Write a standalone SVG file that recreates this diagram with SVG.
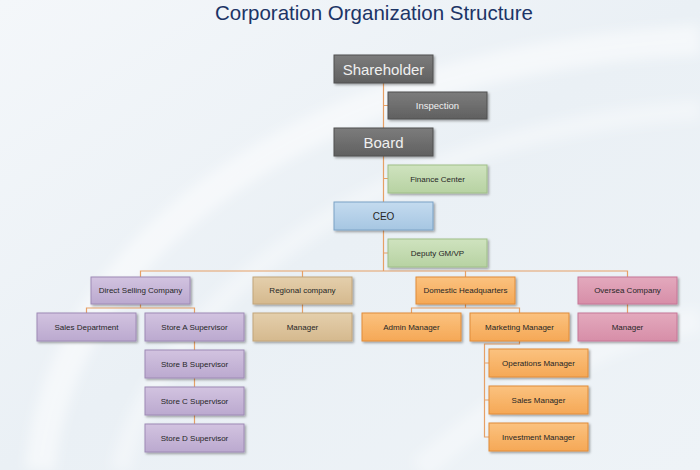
<svg xmlns="http://www.w3.org/2000/svg" width="700" height="470" viewBox="0 0 700 470">
<defs>
<linearGradient id="bg" x1="0" y1="0" x2="1" y2="1">
<stop offset="0" stop-color="#f4f7fa"/><stop offset="0.5" stop-color="#eaf0f5"/><stop offset="1" stop-color="#eef3f7"/>
</linearGradient>
<linearGradient id="gGray" x1="0" y1="0" x2="0" y2="1"><stop offset="0" stop-color="#7c7c7c"/><stop offset="1" stop-color="#606060"/></linearGradient>
<linearGradient id="gGreen" x1="0" y1="0" x2="0" y2="1"><stop offset="0" stop-color="#cfe3bf"/><stop offset="1" stop-color="#b7d2a2"/></linearGradient>
<linearGradient id="gBlue" x1="0" y1="0" x2="0" y2="1"><stop offset="0" stop-color="#c4dbef"/><stop offset="1" stop-color="#a6c6e2"/></linearGradient>
<linearGradient id="gPurple" x1="0" y1="0" x2="0" y2="1"><stop offset="0" stop-color="#d2c3e0"/><stop offset="1" stop-color="#bba9cf"/></linearGradient>
<linearGradient id="gTan" x1="0" y1="0" x2="0" y2="1"><stop offset="0" stop-color="#e4cfac"/><stop offset="1" stop-color="#d5b98e"/></linearGradient>
<linearGradient id="gOrange" x1="0" y1="0" x2="0" y2="1"><stop offset="0" stop-color="#fbc27f"/><stop offset="1" stop-color="#f5a856"/></linearGradient>
<linearGradient id="gPink" x1="0" y1="0" x2="0" y2="1"><stop offset="0" stop-color="#e3a9bd"/><stop offset="1" stop-color="#d78ea8"/></linearGradient>
<filter id="sh" x="-10%" y="-20%" width="125%" height="150%">
<feDropShadow dx="1.5" dy="1.5" stdDeviation="1" flood-color="#000" flood-opacity="0.35"/>
</filter>
<filter id="blur"><feGaussianBlur stdDeviation="6"/></filter>
</defs>
<style>
.box{stroke-width:1;filter:url(#sh)}
.gray{fill:url(#gGray);stroke:#505050}
.green{fill:url(#gGreen);stroke:#9fbf88}
.blue{fill:url(#gBlue);stroke:#7aa2c6}
.purple{fill:url(#gPurple);stroke:#9e8ab5}
.tan{fill:url(#gTan);stroke:#c2a57a}
.orange{fill:url(#gOrange);stroke:#e08c3a}
.pink{fill:url(#gPink);stroke:#c67797}
.t{font-family:"Liberation Sans",Arial,sans-serif;font-size:8px;fill:#262626;text-anchor:middle;dominant-baseline:central}
.tw{fill:#f0f0f0}
.big{font-size:15px}
.mid{font-size:9.5px}
.ceo{font-size:10px}
.conn{fill:none;stroke:#e6a066;stroke-width:1.2}
.title{font-family:"Liberation Sans",Arial,sans-serif;font-size:21px;fill:#1c3466;text-anchor:middle}
</style>
<rect width="700" height="470" fill="url(#bg)"/>
<g fill="none" stroke="#ffffff" filter="url(#blur)">
<path d="M40 470 C 60 250, 300 60, 700 40" stroke-width="30" stroke-opacity="0.5"/>
<path d="M120 470 C 160 300, 380 130, 700 110" stroke-width="20" stroke-opacity="0.35"/>
<path d="M420 470 C 520 380, 620 330, 700 320" stroke-width="24" stroke-opacity="0.35"/>
</g>
<text class="title" x="374" y="20" textLength="318" lengthAdjust="spacingAndGlyphs">Corporation Organization Structure</text>
<g id="connectors" class="conn">
<path d="M383.5 83 V271 M383.5 105.5 H388 M383.5 178.5 H388 M383.5 253 H388"/>
<path d="M140.5 277 V271 H627.5 V277 M302.5 271 V277 M465.5 271 V277"/>
<path d="M140.5 304 V308 M86.5 313 V308 H194.5 V313"/>
<path d="M302.5 304 V313 M627.5 304 V313"/>
<path d="M465.5 304 V308 M411.5 313 V308 H519.5 V313"/>
<path d="M194.5 341 V424"/>
<path d="M519.5 341 V344 H484.5 V437 H489 M484.5 363 H489 M484.5 400 H489"/>
</g>
<g id="shareholder"><rect class="box gray" x="334" y="55" width="99" height="28"/><text class="t tw big" x="383.5" y="69">Shareholder</text></g>
<g id="inspection"><rect class="box gray" x="388" y="92" width="99" height="27"/><text class="t tw mid" x="437.5" y="105.5">Inspection</text></g>
<g id="board"><rect class="box gray" x="334" y="128" width="99" height="28"/><text class="t tw big" x="383.5" y="142">Board</text></g>
<g id="finance-center"><rect class="box green" x="388" y="165" width="99" height="28"/><text class="t" x="437.5" y="179">Finance Center</text></g>
<g id="ceo"><rect class="box blue" x="334" y="202" width="99" height="28"/><text class="t ceo" x="383.5" y="216">CEO</text></g>
<g id="deputy"><rect class="box green" x="388" y="239" width="99" height="28"/><text class="t" x="437.5" y="253">Deputy GM/VP</text></g>
<g id="direct-selling"><rect class="box purple" x="91" y="277" width="99" height="27"/><text class="t" x="140.5" y="290.5">Direct Selling Company</text></g>
<g id="regional"><rect class="box tan" x="253" y="277" width="99" height="27"/><text class="t" x="302.5" y="290.5">Regional company</text></g>
<g id="domestic"><rect class="box orange" x="416" y="277" width="99" height="27"/><text class="t" x="465.5" y="290.5">Domestic Headquarters</text></g>
<g id="oversea"><rect class="box pink" x="578" y="277" width="99" height="27"/><text class="t" x="627.5" y="290.5">Oversea Company</text></g>
<g id="sales-department"><rect class="box purple" x="37" y="313" width="99" height="28"/><text class="t" x="86.5" y="327">Sales Department</text></g>
<g id="store-a"><rect class="box purple" x="145" y="313" width="99" height="28"/><text class="t" x="194.5" y="327">Store A Supervisor</text></g>
<g id="regional-manager"><rect class="box tan" x="253" y="313" width="99" height="28"/><text class="t" x="302.5" y="327">Manager</text></g>
<g id="admin-manager"><rect class="box orange" x="362" y="313" width="99" height="28"/><text class="t" x="411.5" y="327">Admin Manager</text></g>
<g id="marketing-manager"><rect class="box orange" x="470" y="313" width="99" height="28"/><text class="t" x="519.5" y="327">Marketing Manager</text></g>
<g id="oversea-manager"><rect class="box pink" x="578" y="313" width="99" height="28"/><text class="t" x="627.5" y="327">Manager</text></g>
<g id="store-b"><rect class="box purple" x="145" y="350" width="99" height="28"/><text class="t" x="194.5" y="364">Store B Supervisor</text></g>
<g id="store-c"><rect class="box purple" x="145" y="387" width="99" height="28"/><text class="t" x="194.5" y="401">Store C Supervisor</text></g>
<g id="store-d"><rect class="box purple" x="145" y="424" width="99" height="28"/><text class="t" x="194.5" y="438">Store D Supervisor</text></g>
<g id="operations-manager"><rect class="box orange" x="489" y="349" width="99" height="28"/><text class="t" x="538.5" y="363">Operations Manager</text></g>
<g id="sales-manager"><rect class="box orange" x="489" y="386" width="99" height="28"/><text class="t" x="538.5" y="400">Sales Manager</text></g>
<g id="investment-manager"><rect class="box orange" x="489" y="423" width="99" height="28"/><text class="t" x="538.5" y="437">Investment Manager</text></g>
</svg>
